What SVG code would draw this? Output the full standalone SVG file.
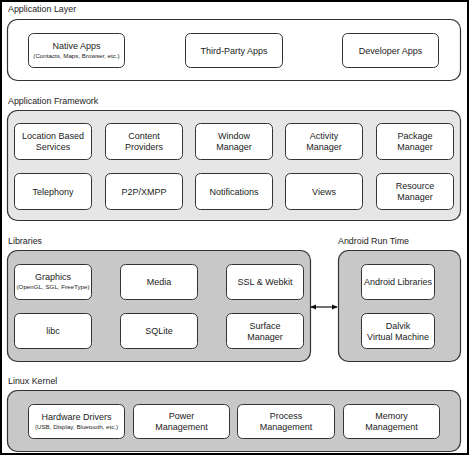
<svg xmlns="http://www.w3.org/2000/svg" width="471" height="457" viewBox="0 0 471 457">
<defs>
<marker id="ah" viewBox="0 0 8 8" refX="7" refY="4" markerWidth="6" markerHeight="6" orient="auto-start-reverse" markerUnits="userSpaceOnUse">
<path d="M0,0.5 L8,4 L0,7.5 Z" fill="#111"/>
</marker>
</defs>
<style>
.lbl{font-family:"Liberation Sans",Arial,sans-serif;font-size:8.9px;fill:#222}
.t{font-family:"Liberation Sans",Arial,sans-serif;font-size:9px;fill:#222;text-anchor:middle}
.s{font-family:"Liberation Sans",Arial,sans-serif;font-size:6.2px;fill:#222;text-anchor:middle}
.box{fill:#fff;stroke:#333;stroke-width:1}
.cw{fill:#fff;stroke:#333;stroke-width:1.2}
.cl{fill:#e6e6e6;stroke:#333;stroke-width:1.2}
.cd{fill:#c8c8c8;stroke:#333;stroke-width:1.2}
</style>
<rect x="0" y="0" width="471" height="457" fill="#fff"/>
<rect x="1" y="1" width="467" height="453" fill="none" stroke="#000" stroke-width="2"/>

<!-- Application Layer -->
<g id="application-layer">
<text class="lbl" x="8" y="12">Application Layer</text>
<rect class="cw" x="7.5" y="19.5" width="453" height="61" rx="10"/>
</g>
<g id="native-apps">
<rect class="box" x="28.5" y="33.5" width="96" height="34" rx="5"/>
<text class="t" x="76.5" y="49">Native Apps</text>
<text class="s" x="76.5" y="58">(Contacts, Maps, Browser, etc.)</text>
</g>
<g id="third-party-apps">
<rect class="box" x="185.5" y="33.5" width="97" height="34" rx="5"/>
<text class="t" x="234" y="53.5">Third-Party Apps</text>
</g>
<g id="developer-apps">
<rect class="box" x="342.5" y="33.5" width="96" height="34" rx="5"/>
<text class="t" x="390.5" y="53.5">Developer Apps</text>
</g>

<!-- Application Framework -->
<g id="application-framework">
<text class="lbl" x="8" y="104">Application Framework</text>
<rect class="cl" x="7.5" y="110.5" width="453" height="110" rx="10"/>
</g>
<g id="location-based-services">
<rect class="box" x="14.5" y="123.5" width="77" height="36" rx="5"/>
<text class="t" x="53" y="139">Location Based</text>
<text class="t" x="53" y="150">Services</text>
</g>
<g id="content-providers">
<rect class="box" x="105.5" y="123.5" width="77" height="36" rx="5"/>
<text class="t" x="144" y="139">Content</text>
<text class="t" x="144" y="150">Providers</text>
</g>
<g id="window-manager">
<rect class="box" x="195.5" y="123.5" width="77" height="36" rx="5"/>
<text class="t" x="234" y="139">Window</text>
<text class="t" x="234" y="150">Manager</text>
</g>
<g id="activity-manager">
<rect class="box" x="285.5" y="123.5" width="77" height="36" rx="5"/>
<text class="t" x="324" y="139">Activity</text>
<text class="t" x="324" y="150">Manager</text>
</g>
<g id="package-manager">
<rect class="box" x="376.5" y="123.5" width="77" height="36" rx="5"/>
<text class="t" x="415" y="139">Package</text>
<text class="t" x="415" y="150">Manager</text>
</g>
<g id="telephony">
<rect class="box" x="14.5" y="173.5" width="77" height="36" rx="5"/>
<text class="t" x="53" y="194.5">Telephony</text>
</g>
<g id="p2p-xmpp">
<rect class="box" x="105.5" y="173.5" width="77" height="36" rx="5"/>
<text class="t" x="144" y="194.5">P2P/XMPP</text>
</g>
<g id="notifications">
<rect class="box" x="195.5" y="173.5" width="77" height="36" rx="5"/>
<text class="t" x="234" y="194.5">Notifications</text>
</g>
<g id="views">
<rect class="box" x="285.5" y="173.5" width="77" height="36" rx="5"/>
<text class="t" x="324" y="194.5">Views</text>
</g>
<g id="resource-manager">
<rect class="box" x="376.5" y="173.5" width="77" height="36" rx="5"/>
<text class="t" x="415" y="189">Resource</text>
<text class="t" x="415" y="200">Manager</text>
</g>

<!-- Libraries -->
<g id="libraries">
<text class="lbl" x="8" y="244">Libraries</text>
<rect class="cd" x="7.5" y="250.5" width="303" height="111" rx="10"/>
</g>
<g id="graphics">
<rect class="box" x="14.5" y="264.5" width="77" height="35" rx="5"/>
<text class="t" x="53" y="280">Graphics</text>
<text class="s" x="53" y="289">(OpenGL, SGL, FreeType)</text>
</g>
<g id="media">
<rect class="box" x="120.5" y="264.5" width="77" height="35" rx="5"/>
<text class="t" x="159" y="285">Media</text>
</g>
<g id="ssl-webkit">
<rect class="box" x="226.5" y="264.5" width="77" height="35" rx="5"/>
<text class="t" x="265" y="285">SSL &amp; Webkit</text>
</g>
<g id="libc">
<rect class="box" x="14.5" y="313.5" width="77" height="35" rx="5"/>
<text class="t" x="53" y="334">libc</text>
</g>
<g id="sqlite">
<rect class="box" x="120.5" y="313.5" width="77" height="35" rx="5"/>
<text class="t" x="159" y="334">SQLite</text>
</g>
<g id="surface-manager">
<rect class="box" x="226.5" y="313.5" width="77" height="35" rx="5"/>
<text class="t" x="265" y="328.5">Surface</text>
<text class="t" x="265" y="339.5">Manager</text>
</g>

<!-- Android Run Time -->
<g id="android-run-time">
<text class="lbl" x="338" y="244">Android Run Time</text>
<rect class="cd" x="338.5" y="250.5" width="122" height="111" rx="10"/>
</g>
<g id="android-libraries">
<rect class="box" x="361.5" y="264.5" width="73" height="35" rx="5"/>
<text class="t" x="398" y="285">Android Libraries</text>
</g>
<g id="dalvik-vm">
<rect class="box" x="361.5" y="313.5" width="73" height="35" rx="5"/>
<text class="t" x="398" y="328.5">Dalvik</text>
<text class="t" x="398" y="339.5">Virtual Machine</text>
</g>

<!-- Linux Kernel -->
<g id="linux-kernel">
<text class="lbl" x="8" y="384">Linux Kernel</text>
<rect class="cd" x="7.5" y="390.5" width="453" height="61" rx="10"/>
</g>
<g id="hardware-drivers">
<rect class="box" x="28.5" y="404.5" width="96" height="34" rx="5"/>
<text class="t" x="76.5" y="420">Hardware Drivers</text>
<text class="s" x="76.5" y="429">(USB, Display, Bluetooth, etc.)</text>
</g>
<g id="power-management">
<rect class="box" x="133.5" y="404.5" width="96" height="34" rx="5"/>
<text class="t" x="181.5" y="419">Power</text>
<text class="t" x="181.5" y="430">Management</text>
</g>
<g id="process-management">
<rect class="box" x="237.5" y="404.5" width="97" height="34" rx="5"/>
<text class="t" x="286" y="419">Process</text>
<text class="t" x="286" y="430">Management</text>
</g>
<g id="memory-management">
<rect class="box" x="343.5" y="404.5" width="96" height="34" rx="5"/>
<text class="t" x="391.5" y="419">Memory</text>
<text class="t" x="391.5" y="430">Management</text>
</g>

<g id="connectors">
<line x1="311" y1="307" x2="337" y2="307" stroke="#111" stroke-width="1.2" marker-start="url(#ah)" marker-end="url(#ah)"/>
</g>
</svg>
